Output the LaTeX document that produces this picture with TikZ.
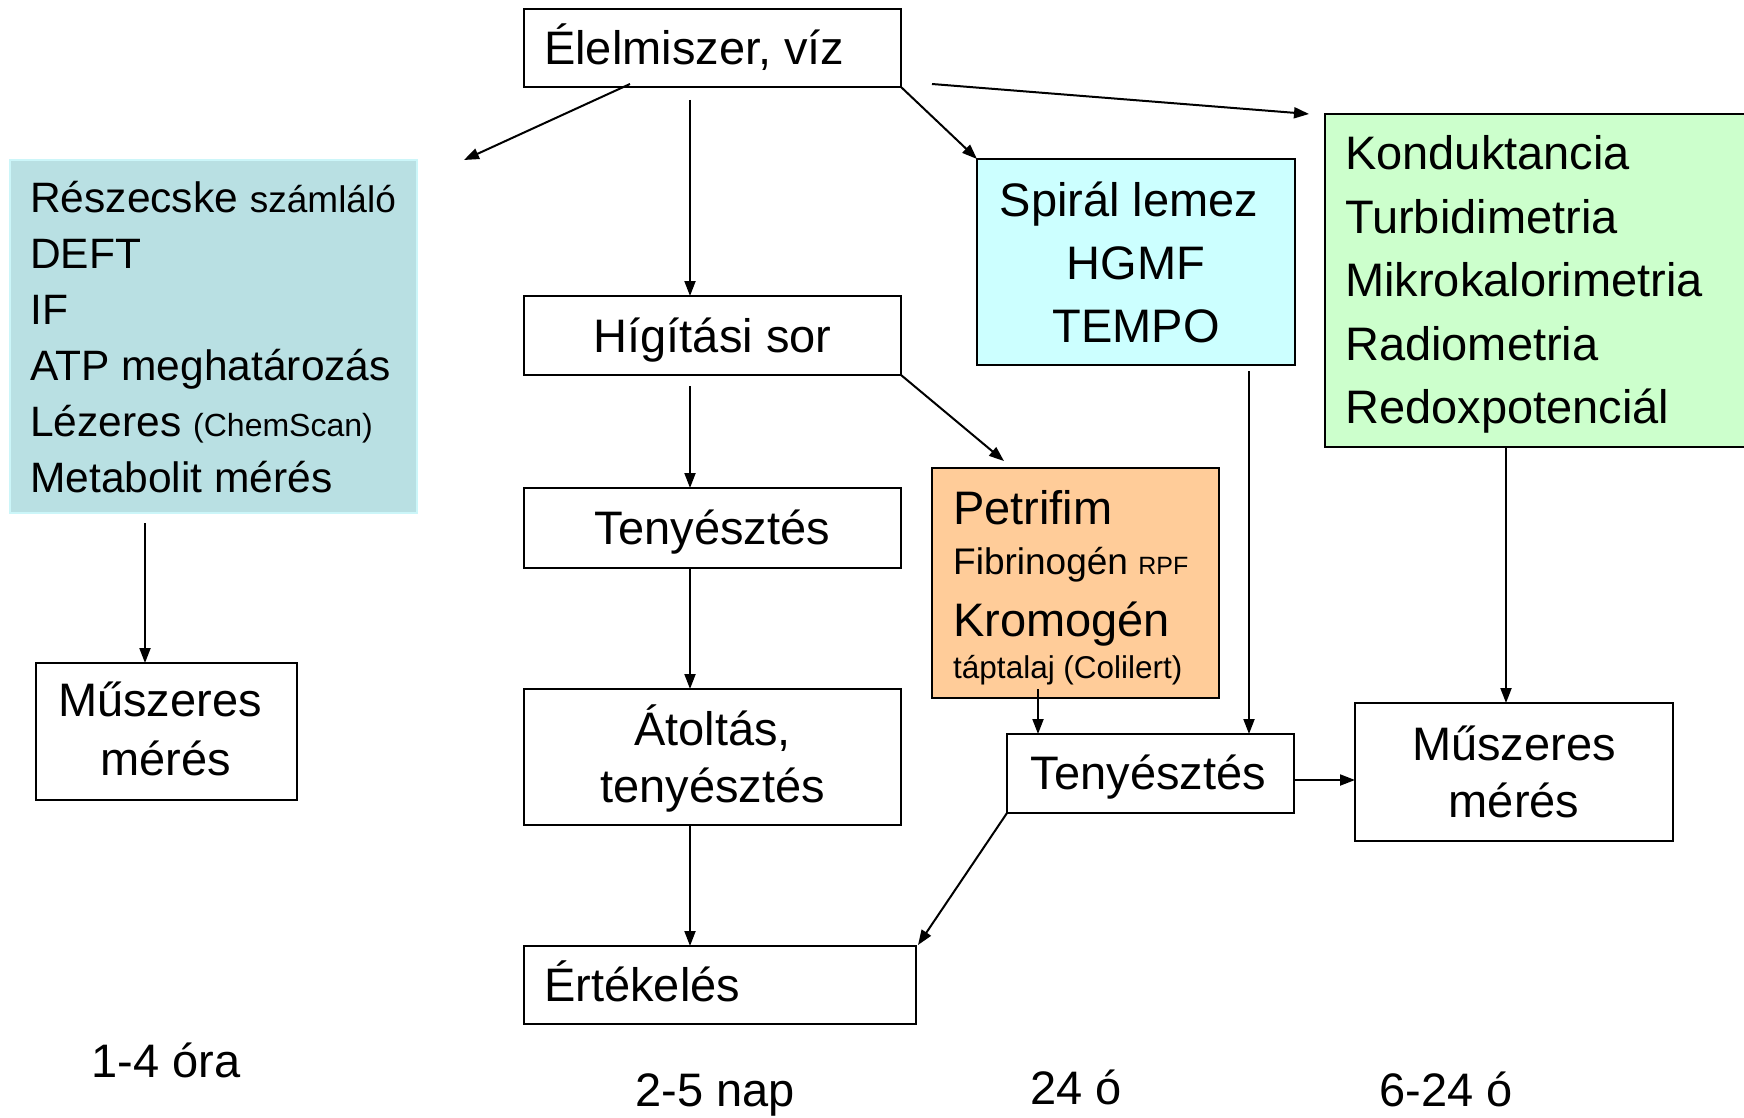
\documentclass[tikz,border=0pt]{standalone}
\usepackage{fontspec}
\setmainfont{Liberation Sans}
\usetikzlibrary{arrows.meta,calc}
\definecolor{tealbox}{HTML}{B9E0E3}
\definecolor{tealborder}{HTML}{CCF6F9}
\definecolor{cyanbox}{HTML}{CCFFFF}
\definecolor{greenbox}{HTML}{CCFFCC}
\definecolor{orangebox}{HTML}{FFCC99}
\begin{document}
\begin{tikzpicture}[x=1pt,y=-1pt,
  box/.style={draw=black, line width=2pt, inner sep=0pt, outer sep=0pt, anchor=north west},
  big/.style={font=\fontsize{47}{56}\selectfont, inner sep=0pt, anchor=base},
  mid/.style={font=\fontsize{42.5}{50}\selectfont, inner sep=0pt, anchor=base west},
  arr/.style={line width=2pt, -{Triangle[length=15pt,width=11pt]}}
]
\useasboundingbox (0,0) rectangle (1744,1118);

% boxes
\node[box, minimum width=377pt, minimum height=78pt] (src) at (524,9) {};
\node[box, minimum width=377pt, minimum height=79pt] (dil) at (524,296) {};
\node[box, minimum width=377pt, minimum height=80pt] (cultA) at (524,488) {};
\node[box, minimum width=377pt, minimum height=136pt] (transfer) at (524,689) {};
\node[box, minimum width=392pt, minimum height=78pt] (eval) at (524,946) {};
\node[box, draw=tealborder, fill=tealbox, minimum width=407pt, minimum height=353pt] (blue) at (10,160) {};
\node[box, minimum width=261pt, minimum height=137pt] (musA) at (36,663) {};
\node[box, fill=cyanbox, minimum width=318pt, minimum height=206pt] (spiral) at (977,159) {};
\node[box, fill=greenbox, minimum width=445pt, minimum height=333pt] (green) at (1325,114) {};
\node[box, fill=orangebox, minimum width=287pt, minimum height=230pt] (orange) at (932,468) {};
\node[box, minimum width=287pt, minimum height=79pt] (cultB) at (1007,734) {};
\node[box, minimum width=318pt, minimum height=138pt] (musB) at (1355,703) {};

% texts
\node[big, anchor=base west] (tsrc) at (544,65) {Élelmiszer, víz};
\node[big] (tdil) at (712.5,352) {Hígítási sor};
\node[big] (tcultA) at (712.5,544) {Tenyésztés};
\node[big] (ttrA) at (712.5,745) {Átoltás,};
\node[big] (ttrB) at (712.5,802) {tenyésztés};
\node[big, anchor=base west] (teval) at (544,1001) {Értékelés};

\node[mid] (b1) at (30,212) {Részecske {\fontsize{37}{37}\selectfont számláló}};
\node[mid] (b2) at (30,268) {DEFT};
\node[mid] (b3) at (30,324) {IF};
\node[mid] (b4) at (30,380) {ATP meghatározás};
\node[mid] (b5) at (30,436) {Lézeres {\fontsize{32}{32}\selectfont (ChemScan)}};
\node[mid] (b6) at (30,492) {Metabolit mérés};

\node[big] (mA1) at (160,716) {Műszeres};
\node[big] (mA2) at (166,775) {mérés};

\node[big] (s1) at (1129,216) {Spirál lemez};
\node[big] (s2) at (1136,279) {HGMF};
\node[big] (s3) at (1136,342) {TEMPO};

\node[big, anchor=base west] (g1) at (1345,170) {Konduktancia};
\node[big, anchor=base west] (g2) at (1345,233) {Turbidimetria};
\node[big, anchor=base west] (g3) at (1345,296) {Mikrokalorimetria};
\node[big, anchor=base west] (g4) at (1345,360) {Radiometria};
\node[big, anchor=base west] (g5) at (1345,423) {Redoxpotenciál};

\node[big, anchor=base west] (o1) at (953,524) {Petrifim};
\node[inner sep=0pt, anchor=base west, font=\fontsize{37}{40}\selectfont] (o2) at (953,574) {Fibrinogén {\fontsize{25}{25}\selectfont RPF}};
\node[big, anchor=base west] (o3) at (953,636) {Kromogén};
\node[inner sep=0pt, anchor=base west, font=\fontsize{31.5}{34}\selectfont] (o4) at (953,678) {táptalaj (Colilert)};

\node[big] (tcultB) at (1148.5,789) {Tenyésztés};
\node[big] (mB1) at (1514,760) {Műszeres};
\node[big] (mB2) at (1514,817) {mérés};

\node[big] (time1) at (166,1077) {1-4 óra};
\node[big] (time2) at (715,1106) {2-5 nap};
\node[big] (time3) at (1076,1104) {24 ó};
\node[big] (time4) at (1446,1106) {6-24 ó};

% connectors
\coordinate (freeA) at (464,160);
\draw[arr] ($(src.south west)+(106,-3)$) -- (freeA);
\draw[arr] ($(src.south west)+(166,13)$) -- ($(dil.north west)+(166,0)$);
\draw[arr] (src.south east) -- (spiral.north west);
\draw[arr] ($(src.south east)+(31,-3)$) -- ($(green.north west)+(-16,0)$);
\draw[arr] (dil.south east) -- ($(orange.north west)+(72,-7)$);
\draw[arr] ($(dil.south west)+(166,11)$) -- ($(cultA.north west)+(166,0)$);
\draw[arr] ($(cultA.south west)+(166,0)$) -- ($(transfer.north west)+(166,0)$);
\draw[arr] ($(transfer.south west)+(166,0)$) -- ($(eval.north west)+(166,0)$);
\draw[arr] ($(blue.south west)+(135,10)$) -- ($(musA.north west)+(109,0)$);
\draw[arr] ($(spiral.south west)+(272,6)$) -- ($(cultB.north west)+(242,0)$);
\draw[arr] ($(orange.south west)+(106,-9)$) -- ($(cultB.north west)+(31,0)$);
\draw[arr] ($(green.south west)+(181,0)$) -- ($(musB.north west)+(151,0)$);
\draw[arr] ($(cultB.north east)+(0,46)$) -- ($(musB.north west)+(0,77)$);
\draw[arr] (cultB.south west) -- ($(eval.north east)+(2,-1)$);
\end{tikzpicture}
\end{document}
